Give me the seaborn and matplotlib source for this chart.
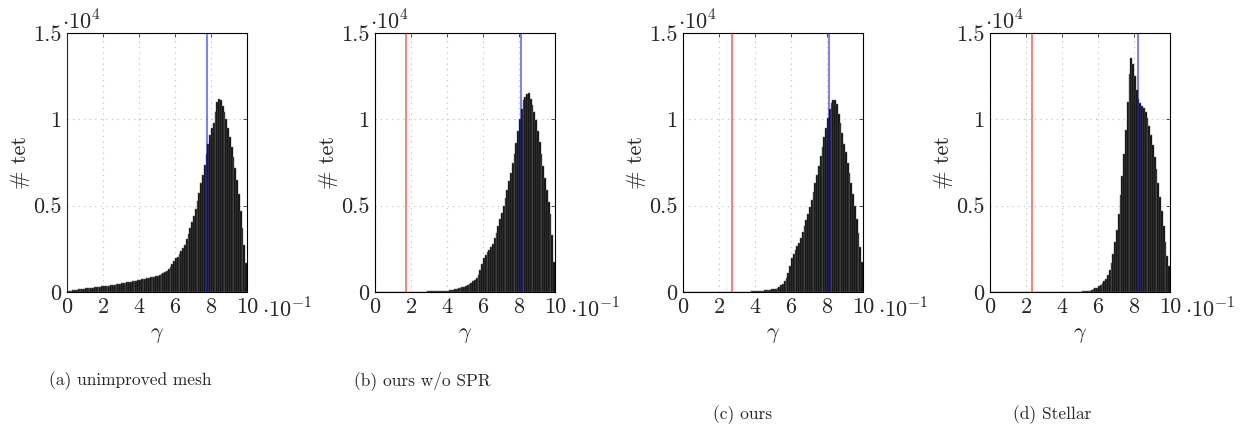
import numpy as np
import pandas as pd
import matplotlib
matplotlib.use('Agg')
import matplotlib.pyplot as plt
import seaborn as sns

# histogram counts per bin (100 bins of width 0.01 on [0, 1])
unimproved = [40, 60, 80, 100, 120, 140, 150, 170, 180, 200,
              210, 220, 240, 250, 260, 270, 280, 300, 310, 320,
              330, 350, 360, 370, 390, 400, 420, 440, 460, 480,
              500, 520, 540, 560, 580, 600, 620, 640, 660, 690,
              710, 730, 760, 780, 800, 820, 840, 860, 880, 910,
              950, 990, 1030, 1080, 1140, 1220, 1320, 1450, 1600, 1780,
              1950, 2050, 2200, 2350, 2550, 2750, 3050, 3350, 3700, 4050,
              4400, 4800, 5250, 5750, 6300, 6800, 7350, 8000, 8600, 9100,
              9500, 9800, 10400, 11000, 11150, 11100, 10800, 10450, 10000, 9500,
              9000, 8400, 7800, 7200, 6500, 5700, 4700, 3700, 2700, 1700]

ours_no_spr = [0, 0, 0, 0, 0, 0, 0, 0, 0, 0,
               0, 0, 0, 0, 0, 0, 0, 4, 6, 8,
               10, 12, 14, 16, 18, 20, 22, 25, 28, 30,
               33, 36, 40, 44, 48, 52, 56, 60, 65, 70,
               80, 100, 120, 140, 160, 180, 210, 240, 270, 300,
               330, 380, 440, 520, 620, 700, 820, 1000, 1300, 1650,
               1950, 2150, 2300, 2450, 2600, 2800, 3100, 3400, 3800, 4200,
               4600, 5000, 5450, 5900, 6400, 6900, 7450, 8000, 8650, 9300,
               10000, 10600, 11100, 11300, 11450, 11500, 11200, 10850, 10450, 9950,
               9350, 8700, 8000, 7300, 6600, 5900, 5200, 4500, 3300, 1750]

ours = [0, 0, 0, 0, 0, 0, 0, 0, 0, 0,
        0, 0, 0, 0, 0, 0, 0, 0, 0, 0,
        0, 0, 0, 0, 0, 0, 0, 4, 6, 8,
        10, 12, 14, 16, 18, 20, 24, 28, 32, 36,
        40, 50, 60, 70, 80, 90, 100, 110, 130, 150,
        170, 200, 240, 300, 380, 480, 620, 800, 1100, 1500,
        1950, 2200, 2450, 2650, 2850, 3100, 3450, 3800, 4150, 4500,
        4900, 5350, 5800, 6300, 6800, 7300, 7850, 8400, 8950, 9500,
        10100, 10600, 10950, 11100, 11100, 10900, 10300, 9800, 9200, 8600,
        8100, 7500, 6900, 6300, 5700, 5000, 4200, 3400, 2600, 1750]

stellar = [0, 0, 0, 0, 0, 0, 0, 0, 0, 0,
           0, 0, 0, 0, 0, 0, 0, 0, 0, 0,
           0, 0, 0, 3, 4, 4, 5, 5, 6, 6,
           7, 8, 8, 9, 10, 10, 11, 12, 13, 14,
           15, 16, 17, 18, 19, 20, 21, 22, 23, 24,
           25, 30, 40, 50, 60, 80, 110, 160, 210, 260,
           320, 400, 500, 620, 780, 1000, 1300, 1700, 2200, 2900,
           3600, 4500, 5600, 6700, 8000, 9400, 11000, 12600, 13550, 13200,
           12500, 11700, 11150, 10950, 10800, 10650, 10450, 10100, 9600, 9100,
           8500, 7800, 7100, 6300, 5500, 4700, 3800, 2900, 2100, 1500]

panels = [unimproved, ours_no_spr, ours, stellar]
min_vals = [0.0, 0.17, 0.27, 0.235]
mean_vals = [0.776, 0.811, 0.811, 0.824]
captions = ['(a) unimproved mesh', '(b) ours w/o SPR', '(c) ours', '(d) Stellar']
xtick_labels = ['0', '2', '4', '6', '8', '10']
ytick_labels = ['0', '0.5', '1', '1.5']

centers = (np.arange(100) + 0.5) / 100

sns.set_style('white')
plt.rcParams['font.family'] = 'serif'
plt.rcParams['font.serif'] = ['cmr10']
plt.rcParams['mathtext.fontset'] = 'cm'
plt.rcParams['axes.formatter.use_mathtext'] = True

fig = plt.figure(figsize=(12.47, 4.29), dpi=100)
lefts = [67, 375, 683, 990]
cap_pos = [(130, 381), (422, 381), (743, 415), (1052, 415)]
W, H = 1247, 429

for i, counts in enumerate(panels):
    ax = fig.add_axes([lefts[i] / W, (H - 292) / H, 180 / W, 259 / H])
    df = pd.DataFrame({'gamma': centers, 'count': counts})
    sns.histplot(data=df, x='gamma', weights='count', bins=100, binrange=(0, 1), ax=ax,
                 color='black', edgecolor='#6a6a6a', linewidth=0.35, alpha=1)
    ax.axvline(mean_vals[i], color='#0000ff', lw=1.1, alpha=0.65, zorder=5)
    ax.axvline(min_vals[i], color='#ff0000', lw=1.1, alpha=0.65, zorder=5)
    ax.set_xlim(0, 1)
    ax.set_ylim(0, 15000)
    ax.set_xticks(np.linspace(0, 1, 6))
    ax.set_xticklabels(xtick_labels)
    ax.set_yticks([0, 5000, 10000, 15000])
    ax.set_yticklabels(ytick_labels)
    ax.tick_params(direction='in', length=3, width=0.6, top=True, right=True,
                   labelsize=16, pad=4, color='#333333')
    ax.grid(True, linestyle=(0, (1, 4)), color='#bbbbbb', linewidth=0.8)
    ax.set_axisbelow(True)
    for s in ax.spines.values():
        s.set_color('black')
        s.set_linewidth(0.8)
    ax.set_xlabel(r'$\gamma$', fontsize=16, labelpad=6)
    ax.set_ylabel('# tet', fontsize=16, labelpad=2)
    ax.text(-0.03, 1.0, r'$\cdot10^{4}$', transform=ax.transAxes,
            ha='left', va='bottom', fontsize=16)
    ax.annotate(r'$\cdot10^{-1}$', xy=(1, 0), xycoords='axes fraction',
                xytext=(10.5, -4), textcoords='offset points',
                ha='left', va='top', fontsize=16)
    cx, cy = cap_pos[i]
    fig.text(cx / W, 1 - cy / H, captions[i], ha='center', va='center',
             fontsize=12.5)

plt.savefig('out.png', dpi=100)
